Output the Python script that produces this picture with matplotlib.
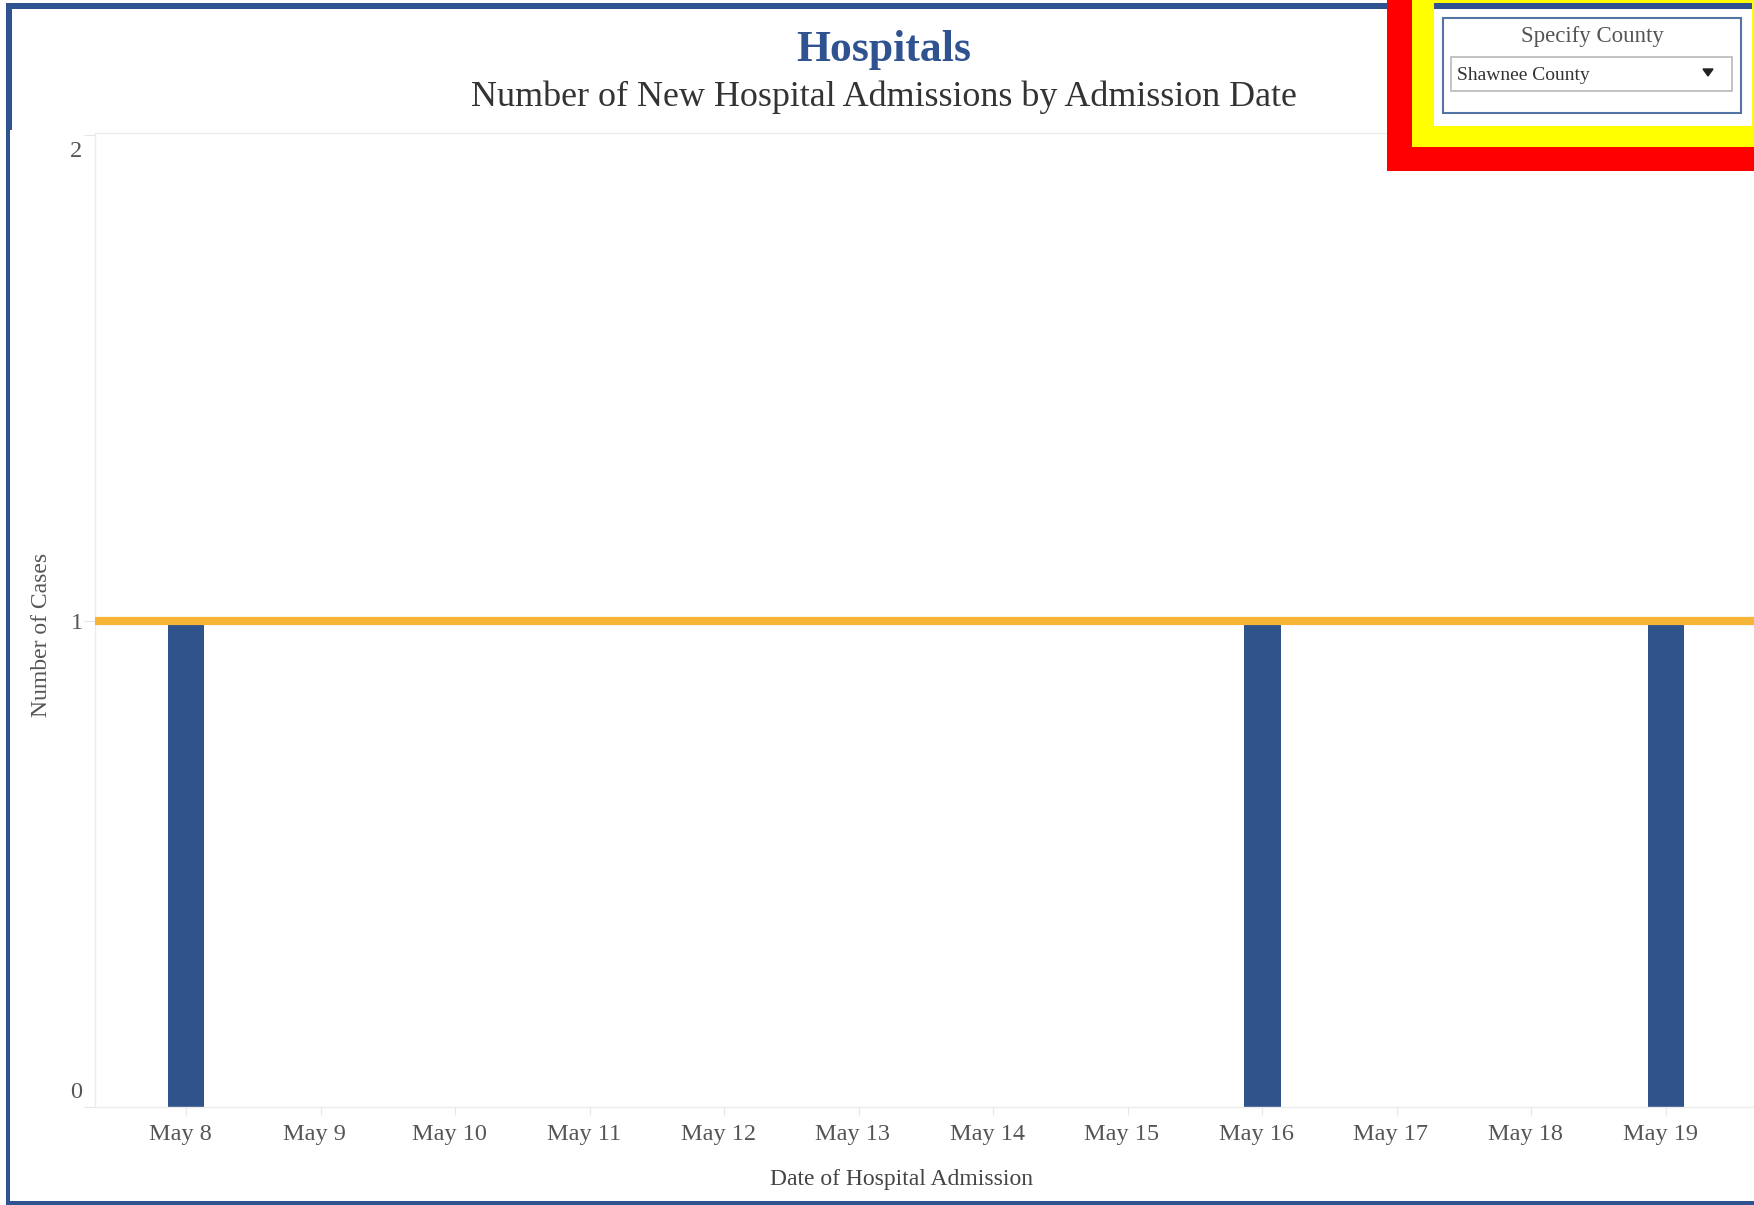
import matplotlib
matplotlib.use("Agg")
import matplotlib.pyplot as plt
from matplotlib.patches import Rectangle, Polygon
from matplotlib.transforms import ScaledTranslation
import numpy as np

# ---- data ----
dates = ["May 8", "May 9", "May 10", "May 11", "May 12", "May 13",
         "May 14", "May 15", "May 16", "May 17", "May 18", "May 19"]
admissions = [1, 0, 0, 0, 0, 0, 0, 0, 1, 0, 0, 1]
reference_value = 1
y_ticks = [0, 1, 2]
title = "Hospitals"
subtitle = "Number of New Hospital Admissions by Admission Date"
x_label = "Date of Hospital Admission"
y_label = "Number of Cases"
filter_title = "Specify County"
filter_value = "Shawnee County"

W, H = 1754, 1205
DPI = 100
plt.rcParams['font.family'] = ['Liberation Serif', 'DejaVu Serif']

fig = plt.figure(figsize=(W / DPI, H / DPI), dpi=DPI)
fig.patch.set_facecolor('white')

def fx(x):
    return x / W

def fy(y):
    return 1 - y / H

def rect(x0, y0, x1, y1, **kw):
    r = Rectangle((fx(x0), fy(y1)), fx(x1) - fx(x0), fy(y0) - fy(y1),
                  transform=fig.transFigure, **kw)
    fig.add_artist(r)
    return r

def shift(dx_px, dy_px):
    # pixel offset (dy positive = down)
    return ScaledTranslation(dx_px / DPI, -dy_px / DPI, fig.dpi_scale_trans)

# ---- axes ----
L, R, T, B = 95, 1754, 133, 1107
ax = fig.add_axes([fx(L), fy(B), fx(R) - fx(L), fy(T) - fy(B)])
x = np.arange(len(dates))
ax.bar(x, admissions, width=0.27, color='#30538c', zorder=2)
ax.axhline(reference_value, color='#f6b536', lw=5.9, zorder=3)

ax.set_xlim(-0.676, len(dates) - 1 + 0.654)
ax.set_ylim(0, 2.004)
ax.set_yticks(y_ticks)
ax.set_yticklabels([str(v) for v in y_ticks])
ax.set_xticks(x)
ax.set_xticklabels(dates)

for s in ax.spines.values():
    s.set_color('#ececec')
    s.set_linewidth(1)

ax.tick_params(axis='x', length=6, color='#e6e6e6', pad=6,
               labelsize=17.5, labelcolor='#555555')
ax.tick_params(axis='y', length=8, color='#e6e6e6', pad=1,
               labelsize=17.5, labelcolor='#555555')
for lab in ax.get_xticklabels():
    lab.set_transform(lab.get_transform() + shift(-6, 0))
yl = ax.get_yticklabels()
yl[0].set_transform(yl[0].get_transform() + shift(0, -17))
yl[-1].set_transform(yl[-1].get_transform() + shift(0, 14))

# axis titles
fig.text(fx(902), fy(1179), x_label, ha='center', va='center',
         fontsize=17, color='#444444')
fig.text(fx(42), fy(635), y_label, ha='center', va='center',
         rotation=90, fontsize=17, color='#555555')

# titles
fig.text(fx(884), fy(50), title, ha='center', va='center',
         fontsize=31.5, fontweight='bold', color='#2f5290')
fig.text(fx(884), fy(97), subtitle, ha='center', va='center',
         fontsize=25.9, color='#333333')

# dashboard frame
blue = '#2f5290'
rect(6, 3, 1752, 9, color=blue, lw=0, zorder=5)
rect(6, 3, 12, 130, color=blue, lw=0, zorder=5)
rect(6, 3, 10, H, color=blue, lw=0, zorder=5)
rect(6, 1201, 1754, H, color=blue, lw=0, zorder=5)

# highlight boxes around filter
rect(1387, 0, W, 171, color='#ff0000', lw=0, zorder=6)
rect(1412, 0, W, 147, color='#ffff00', lw=0, zorder=7)
rect(1434, 3, 1752, 126, color='white', lw=0, zorder=8)
rect(1434, 3, 1752, 9, color=blue, lw=0, zorder=9)

# filter control
rect(1443, 18, 1741, 113, facecolor='white', edgecolor='#5574a6', lw=1.5, zorder=10)
rect(1451, 57, 1732, 91, facecolor='white', edgecolor='#b8b8b8', lw=1.2, zorder=11)
fig.text(fx(1592), fy(36.5), filter_title, ha='center', va='center',
         fontsize=16.5, color='#555555', zorder=12)
fig.text(fx(1457), fy(75), filter_value, ha='left', va='center',
         fontsize=14, color='#333333', zorder=12)
tri = Polygon([[fx(1703), fy(69)], [fx(1713), fy(69)], [fx(1708), fy(76)]],
              closed=True, transform=fig.transFigure, color='#222222', zorder=12)
fig.add_artist(tri)

fig.savefig("out.png", dpi=DPI, facecolor='white')
